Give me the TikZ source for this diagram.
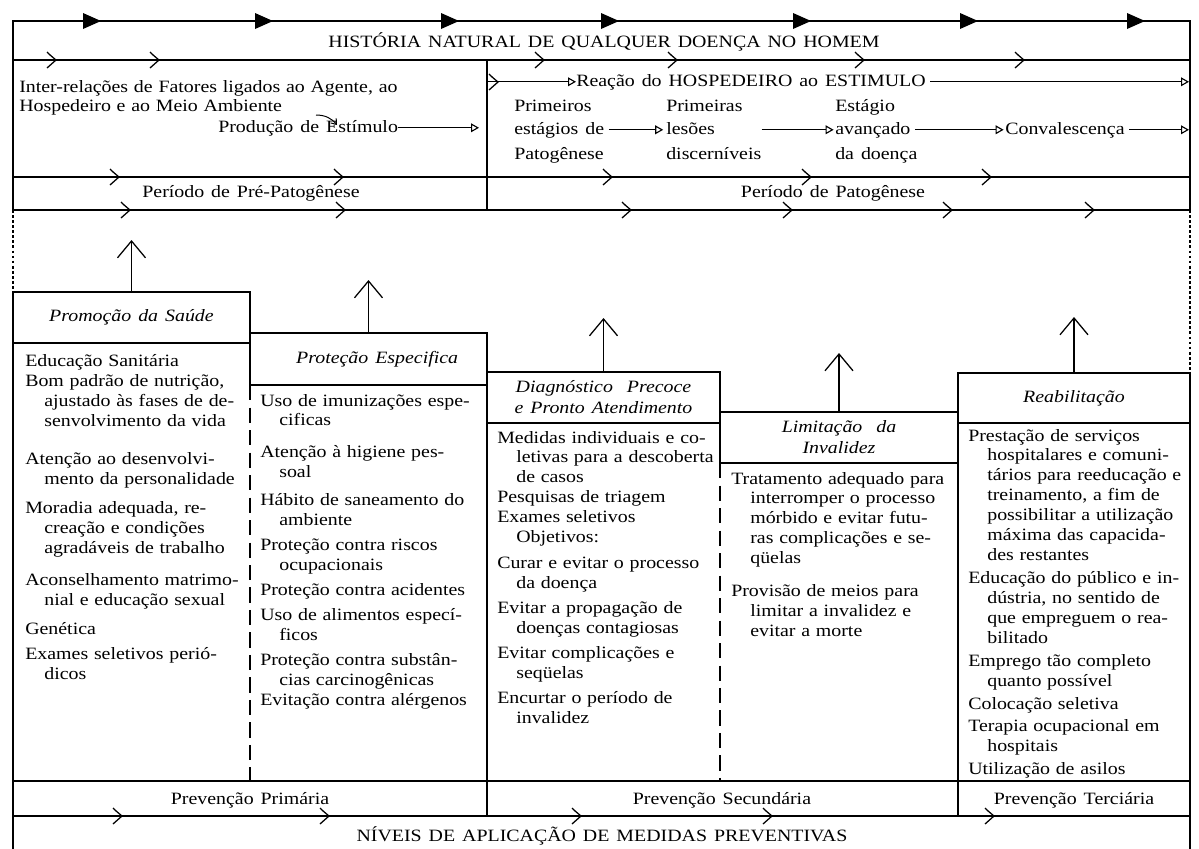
\documentclass[tikz,border=0pt]{standalone}
\usepackage{fontspec}
\setmainfont{Liberation Serif}[FakeStretch=1.15,WordSpace=1.4]
\usetikzlibrary{arrows.meta,positioning}

\tikzset{
  frame/.style={line width=1.8pt},
  rule/.style={line width=0.9pt},
  dotframe/.style={line width=2pt, dash pattern=on 2pt off 1.6pt},
  dashcol/.style={line width=0.9pt, dash pattern=on 11pt off 5pt},
  hdr/.style={draw, line width=0.9pt, inner sep=0pt, align=center,
    font=\fontsize{12.3}{15}\selectfont\itshape},
  col/.style={anchor=base west, inner sep=0pt},
  lbl/.style={anchor=base, inner sep=0pt, text height=9pt, text depth=3pt},
  lblw/.style={anchor=base west, inner sep=0pt, text height=9pt, text depth=3pt},
  flow/.style={line width=0.8pt, -{Triangle[open,length=2mm,width=2.2mm,line width=0.8pt]}},
  upar/.style={line width=0.9pt, -{Straight Barb[length=4.2mm,width=7mm,line width=0.9pt]}}
}
\newcommand{\chev}[2]{\draw[rule] (#1-5,#2-8) .. controls (#1-2,#2-5) .. (#1+4,#2) .. controls (#1-1,#2+4) .. (#1-5,#2+8);}
\newcommand{\fullhead}[1]{\fill (#1-9,13) -- (#1+9,21) -- (#1-9,29) -- cycle;}
\newcommand{\jline}[1]{\noindent\hbox to \linewidth{#1}\par}
\newcommand{\jhang}[1]{\noindent\hbox to \linewidth{\hspace*{1.1em}#1}\par}
\newcommand{\fline}[1]{\noindent\hbox{#1}\par}
\newcommand{\fhang}[1]{\noindent\hbox{\hspace*{1.1em}#1}\par}

\begin{document}
\begin{tikzpicture}[x=0.025cm,y=-0.025cm,font=\fontsize{12.3}{14.2}\selectfont]
\useasboundingbox (0,0) rectangle (1199,849);

% moldura
\draw[frame] (13,210) -- (13,21) -- (1190,21) -- (1190,210);
\fullhead{92} \fullhead{264} \fullhead{450} \fullhead{610} \fullhead{802} \fullhead{969} \fullhead{1136}
\draw[rule] (13,60) -- (1190,60);
\draw[rule] (13,177) -- (1190,177);
\draw[rule] (13,210) -- (1190,210);
\draw[rule] (487,60) -- (487,210);
\draw[dotframe] (13,210) -- (13,292);
\draw[dotframe] (1190,210) -- (1190,373);
\draw[frame] (13,292) -- (13,849);
\draw[frame] (1190,373) -- (1190,849);

\chev{52}{60} \chev{155}{60} \chev{540}{60} \chev{673}{60} \chev{860}{60} \chev{1020}{60}
\chev{115}{177} \chev{339}{177} \chev{608}{177} \chev{807}{177} \chev{987}{177}
\chev{126}{210} \chev{341}{210} \chev{627}{210} \chev{788}{210} \chev{948}{210} \chev{1090}{210}

\node[lbl] (titulo) at (604,47) {HISTÓRIA NATURAL DE QUALQUER DOENÇA NO HOMEM};

% pre-patogenese
\node[col, text width=11cm] (interrel) at (19,92)
  {\noindent\hbox to 11cm{Inter-relações de Fatores ligados ao Agente, ao}\par\fline{Hospedeiro e ao Meio Ambiente}};
\node[lblw] (producao) at (218,132) {Produção de Estímulo};
\coordinate (divisa) at (479,0);
\draw[flow] (producao.east) -- (producao.east -| divisa);
\coordinate (gancho1) at (316,115);
\coordinate (gancho2) at (337,125);
\draw[line width=0.7pt, -{Straight Barb[length=1.2mm,width=1.8mm]}] (gancho1) to[bend left=25] (gancho2);

% patogenese
\coordinate (divreac) at (487,0);
\coordinate (bordadir) at (1189,0);
\node[lblw] (reacao) at (576,86) {Reação do HOSPEDEIRO ao ESTIMULO};
\chev{494}{82}
\draw[flow] (reacao.west -| divreac) -- (reacao.west);
\draw[flow, shorten <=3pt] (reacao.east) -- (reacao.east -| bordadir);
\node[lblw] (primeiros) at (514,111) {Primeiros};
\node[lblw] (estagios) at (514,134) {estágios de};
\node[lblw] (patogenese) at (514,159) {Patogênese};
\node[lblw] (primeiras) at (666,111) {Primeiras};
\node[lblw] (lesoes) at (666,134) {lesões};
\node[lblw] (discern) at (666,159) {discerníveis};
\node[lblw] (estagio) at (835,111) {Estágio};
\node[lblw] (avancado) at (835,134) {avançado};
\node[lblw] (dadoenca) at (835,159) {da doença};
\node[lblw] (convalesc) at (1005,134) {Convalescença};
\draw[flow, shorten <=3pt, shorten >=2pt] (estagios.east) -- (lesoes.west);
\draw[flow, shorten >=1pt] (lesoes.east -| discern.east) -- (avancado.west);
\draw[flow, shorten <=3pt, shorten >=1pt] (avancado.east) -- (convalesc.west);
\draw[flow, shorten <=3pt] (convalesc.east) -- (convalesc.east -| bordadir);

\node[lbl] (prepat) at (251,197) {Período de Pré-Patogênese};
\node[lbl] (pat) at (833,197) {Período de Patogênese};

% colunas
\draw[dashcol] (250,385) -- (250,781);
\draw[rule] (487,333) -- (487,781);
\draw[dashcol] (720,463) -- (720,781);
\draw[rule] (958,412) -- (958,781);

\node[hdr, minimum width=5.925cm, minimum height=1.275cm] (promo) at (131.5,317.5) {Promoção da Saúde};
\node[hdr, minimum width=5.925cm, minimum height=1.3cm] (protec) at (368.5,359) {\hspace*{1em}Proteção Especifica};
\node[hdr, minimum width=5.825cm, minimum height=1.275cm] (diagn) at (603.5,397.5) {Diagnóstico\ \ Precoce\\e Pronto Atendimento};
\node[hdr, minimum width=5.95cm, minimum height=1.275cm] (limit) at (839,437.5) {Limitação\ \ da\\Invalidez};
\node[hdr, minimum width=5.8cm, minimum height=1.25cm] (reab) at (1074,398) {Reabilitação};

\coordinate (promotip) at (131.5,240);
\coordinate (protectip) at (368.5,280);
\coordinate (diagntip) at (603.5,318);
\coordinate (limittip) at (839,353);
\coordinate (reabtip) at (1074,317);
\draw[upar] (promo.north) -- (promotip);
\draw[upar] (protec.north) -- (protectip);
\draw[upar] (diagn.north) -- (diagntip);
\draw[upar] (limit.north) -- (limittip);
\draw[upar] (reab.north) -- (reabtip);

\node[col, text width=5.45cm] (promotxt) at (25,366) {%
  \fline{Educação Sanitária}\vspace{0.5pt}
  \jline{Bom padrão de nutrição,}\jhang{ajustado às fases de de-}\jhang{senvolvimento da vida}\vspace{12.5pt}
  \jline{Atenção ao desenvolvi-}\jhang{mento da personalidade}\vspace{7pt}
  \jline{Moradia adequada, re-}\jhang{creação e condições}\jhang{agradáveis de trabalho}\vspace{8pt}
  \jline{Aconselhamento matrimo-}\jhang{nial e educação sexual}\vspace{7pt}
  \fline{Genética}\vspace{3.5pt}
  \fline{Exames seletivos perió-}\fhang{dicos}};

\node[col, text width=5.5cm] (protectxt) at (260,406) {%
  \jline{Uso de imunizações espe-}\fhang{cificas}\vspace{8.5pt}
  \jline{Atenção à higiene pes-}\fhang{soal}\vspace{5.7pt}
  \jline{Hábito de saneamento do}\fhang{ambiente}\vspace{3.5pt}
  \fline{Proteção contra riscos}\fhang{ocupacionais}\vspace{3.5pt}
  \jline{Proteção contra acidentes}\vspace{3.5pt}
  \jline{Uso de alimentos especí-}\fhang{ficos}\vspace{3.5pt}
  \jline{Proteção contra substân-}\fhang{cias carcinogênicas}
  \jline{Evitação contra alérgenos}};

\node[col, text width=5.4cm] (diagntxt) at (497,443) {%
  \jline{Medidas individuais e co-}\jhang{letivas para a descoberta}\fhang{de casos}
  \fline{Pesquisas de triagem}
  \fline{Exames seletivos}
  \fhang{Objetivos:}\vspace{4pt}
  \jline{Curar e evitar o processo}\fhang{da doença}\vspace{4pt}
  \jline{Evitar a propagação de}\fhang{doenças contagiosas}\vspace{3pt}
  \fline{Evitar complicações e}\fhang{seqüelas}\vspace{4pt}
  \fline{Encurtar o período de}\fhang{invalidez}};

\node[col, text width=5.4cm] (limittxt) at (731,484) {%
  \jline{Tratamento adequado para}\jhang{interromper o processo}\jhang{mórbido e evitar futu-}%
  \jhang{ras complicações e se-}\fhang{qüelas}\vspace{9.2pt}
  \jline{Provisão de meios para}\jhang{limitar a invalidez e}\fhang{evitar a morte}};

\node[col, text width=5.4cm] (reabtxt) at (968,441) {%
  \jline{Prestação de serviços}\jhang{hospitalares e comuni-}\jhang{tários para reeducação e}%
  \jhang{treinamento, a fim de}\jhang{possibilitar a utilização}\jhang{máxima das capacida-}\fhang{des restantes}\vspace{2pt}
  \jline{Educação do público e in-}\jhang{dústria, no sentido de}\jhang{que empreguem o rea-}\fhang{bilitado}\vspace{2pt}
  \jline{Emprego tão completo}\fhang{quanto possível}\vspace{2pt}
  \fline{Colocação seletiva}\vspace{2pt}
  \jline{Terapia ocupacional em}\fhang{hospitais}\vspace{2pt}
  \fline{Utilização de asilos}};

% niveis de prevencao
\draw[rule] (13,781) -- (1190,781);
\draw[rule] (13,816) -- (1190,816);
\draw[rule] (487,781) -- (487,816);
\draw[rule] (958,781) -- (958,816);
\chev{118}{816} \chev{325}{816} \chev{577}{816} \chev{768}{816} \chev{990}{816}
\node[lbl] (prevprim) at (250,804) {Prevenção Primária};
\node[lbl] (prevsec) at (722,804) {Prevenção Secundária};
\node[lbl] (prevter) at (1074,804) {Prevenção Terciária};
\node[lbl] (niveis) at (602,841) {NÍVEIS DE APLICAÇÃO DE MEDIDAS PREVENTIVAS};
\end{tikzpicture}
\end{document}
